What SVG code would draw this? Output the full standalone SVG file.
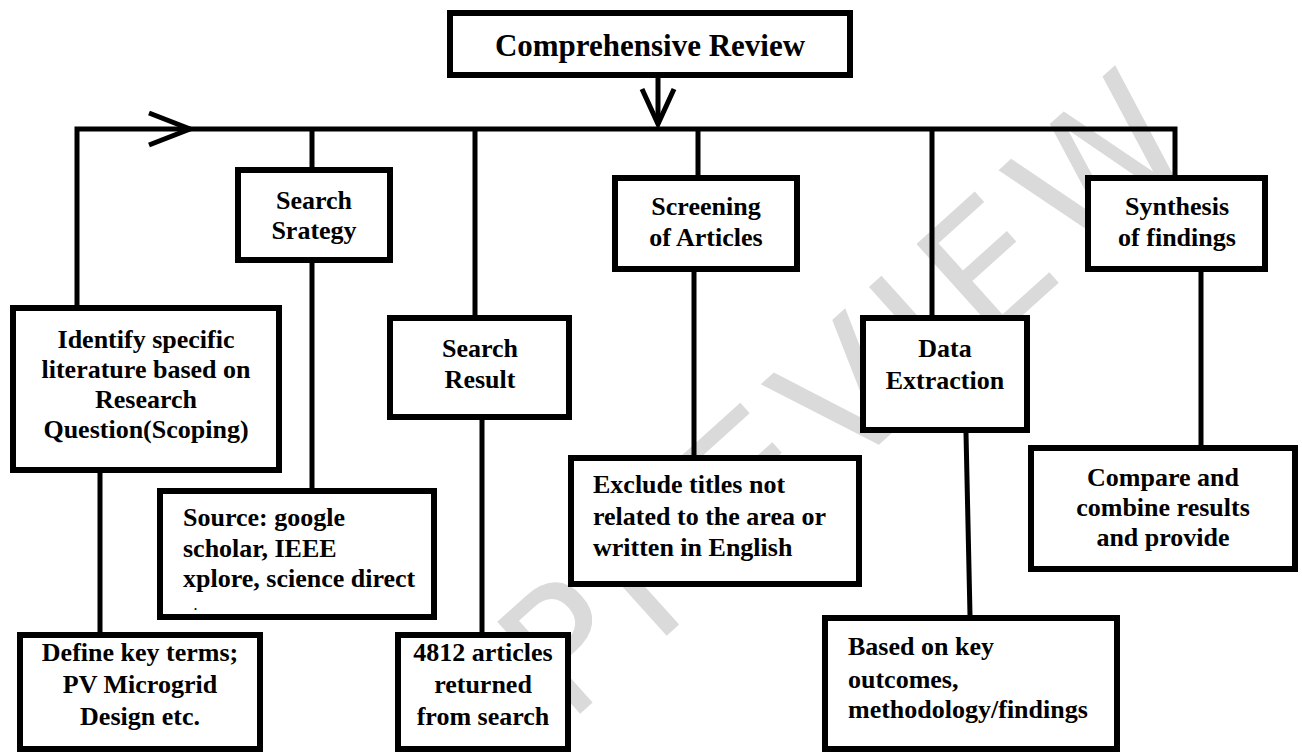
<svg xmlns="http://www.w3.org/2000/svg" width="1302" height="754" viewBox="0 0 1302 754">
<style>
.box{fill:#fff;stroke:#000;stroke-width:6}
.ln{fill:none;stroke:#000;stroke-width:5}
.t{font-family:"Liberation Serif","Times New Roman",serif;font-weight:bold;font-size:26px;fill:#000}
.c{text-anchor:middle}
.big{font-size:31px}
.wm{font-family:"DejaVu Sans",sans-serif;font-size:170px;letter-spacing:14px;fill:#dadada}
</style>
<rect width="1302" height="754" fill="#fff"/>
<text class="wm" text-anchor="middle" transform="translate(850,390) rotate(-42)" x="0" y="60">PREVIEW</text>
<g id="connectors">
<path class="ln" d="M77,305 V129 H1175 V175"/>
<path class="ln" d="M658,78 V124"/>
<polyline class="ln" stroke-width="8" points="642,89 658,124 674,89"/>
<polyline class="ln" stroke-width="7" points="149,113 190,129 149,145"/>
<path class="ln" d="M312,129 V167 M312,263 V488"/>
<path class="ln" d="M475,129 V315 M482,420 V632"/>
<path class="ln" d="M698,129 V175 M694,272 V455"/>
<path class="ln" d="M932,129 V315 M966,433 L970,615"/>
<path class="ln" d="M1201,272 V445"/>
<path class="ln" d="M100,473 V632"/>
</g>
<g id="comprehensive-review">
<rect class="box" x="450" y="13" width="400" height="62"/>
<text class="t c big" x="650" y="56">Comprehensive Review</text>
</g>
<g id="identify">
<rect class="box" x="13" y="308" width="266" height="162"/>
<text class="t c" x="146" y="348">Identify specific</text>
<text class="t c" x="146" y="378">literature based on</text>
<text class="t c" x="146" y="408">Research</text>
<text class="t c" x="146" y="438">Question(Scoping)</text>
</g>
<g id="search-strategy">
<rect class="box" x="238" y="170" width="152" height="90"/>
<text class="t c" x="314" y="209">Search</text>
<text class="t c" x="314" y="239">Srategy</text>
</g>
<g id="search-result">
<rect class="box" x="390" y="318" width="179" height="99"/>
<text class="t c" x="480" y="357">Search</text>
<text class="t c" x="480" y="388">Result</text>
</g>
<g id="screening">
<rect class="box" x="615" y="178" width="182" height="91"/>
<text class="t c" x="706" y="215">Screening</text>
<text class="t c" x="706" y="246">of Articles</text>
</g>
<g id="data-extraction">
<rect class="box" x="863" y="318" width="164" height="112"/>
<text class="t c" x="945" y="357">Data</text>
<text class="t c" x="945" y="389">Extraction</text>
</g>
<g id="synthesis">
<rect class="box" x="1088" y="178" width="177" height="91"/>
<text class="t c" x="1177" y="215">Synthesis</text>
<text class="t c" x="1177" y="246">of findings</text>
</g>
<g id="exclude">
<rect class="box" x="571" y="458" width="288" height="126"/>
<text class="t" x="593" y="493">Exclude titles not</text>
<text class="t" x="593" y="525">related to the area or</text>
<text class="t" x="593" y="556">written in English</text>
</g>
<g id="compare">
<rect class="box" x="1031" y="448" width="264" height="121"/>
<text class="t c" x="1163" y="486">Compare and</text>
<text class="t c" x="1163" y="516">combine results</text>
<text class="t c" x="1163" y="546">and provide</text>
</g>
<g id="source">
<rect class="box" x="160" y="491" width="274" height="126"/>
<text class="t" x="183" y="526">Source: google</text>
<text class="t" x="183" y="557">scholar, IEEE</text>
<text class="t" x="183" y="587">xplore, science direct</text>
<text class="t" x="194" y="610" style="font-size:12px">.</text>
</g>
<g id="define">
<rect class="box" x="20" y="635" width="240" height="114"/>
<text class="t c" x="140" y="661">Define key terms;</text>
<text class="t c" x="140" y="693">PV Microgrid</text>
<text class="t c" x="140" y="725">Design etc.</text>
</g>
<g id="articles">
<rect class="box" x="398" y="635" width="170" height="114"/>
<text class="t c" x="483" y="661">4812 articles</text>
<text class="t c" x="483" y="693">returned</text>
<text class="t c" x="483" y="725">from search</text>
</g>
<g id="based">
<rect class="box" x="825" y="618" width="292" height="131"/>
<text class="t" x="848" y="655">Based on key</text>
<text class="t" x="848" y="688">outcomes,</text>
<text class="t" x="848" y="718">methodology/findings</text>
</g>
</svg>
